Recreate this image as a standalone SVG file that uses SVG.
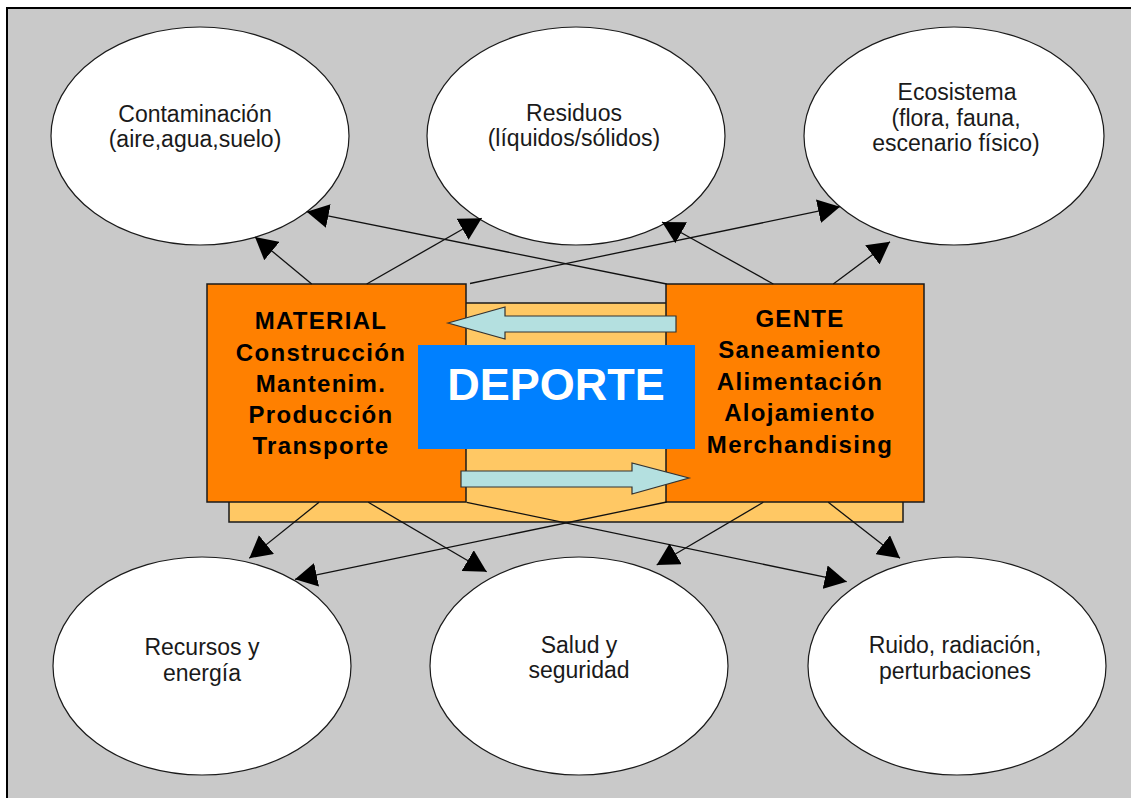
<svg xmlns="http://www.w3.org/2000/svg" width="1131" height="798" viewBox="0 0 1131 798">
<defs>
<style>
.ell{fill:#ffffff;stroke:#1a1a1a;stroke-width:1.2}
.et{font-family:"Liberation Sans",Arial,sans-serif;font-size:23px;fill:#1a1a1a;text-anchor:middle}
.bt{font-family:"Liberation Sans",Arial,sans-serif;font-size:24px;font-weight:bold;fill:#000;text-anchor:middle;letter-spacing:1.3px}
.box{fill:#ff8000;stroke:#1a1a1a;stroke-width:1.5}
.conn{stroke:#111;stroke-width:1.3;fill:none;marker-end:url(#ah)}
.flow{fill:#b4e0e0;stroke:#333;stroke-width:1.2}
</style>
<marker id="ah" viewBox="0 0 22 24" refX="22" refY="12" markerWidth="22" markerHeight="24" markerUnits="userSpaceOnUse" orient="auto">
<path d="M0,0 L22,12 L0,24 z" fill="#000"/>
</marker>
</defs>
<rect x="0" y="0" width="1131" height="798" fill="#ffffff"/>
<rect x="7" y="8" width="1140" height="810" fill="#c9c9c9" stroke="#000" stroke-width="2"/>

<g id="core">
<rect x="229" y="303" width="674" height="219" fill="#ffc864" stroke="#1a1a1a" stroke-width="1.5"/>
</g>
<g id="material">
<rect class="box" x="207" y="284" width="259" height="218"/>
<text class="bt" x="321" y="329">MATERIAL</text>
<text class="bt" x="321" y="361">Construcción</text>
<text class="bt" x="321" y="392">Mantenim.</text>
<text class="bt" x="321" y="423">Producción</text>
<text class="bt" x="321" y="454">Transporte</text>
</g>
<g id="gente">
<rect class="box" x="666" y="284" width="258" height="218"/>
<text class="bt" x="800" y="327">GENTE</text>
<text class="bt" x="800" y="358">Saneamiento</text>
<text class="bt" x="800" y="390">Alimentación</text>
<text class="bt" x="800" y="421">Alojamiento</text>
<text class="bt" x="800" y="453">Merchandising</text>
</g>
<g id="flows">
<polygon class="flow" points="448,323 505,307 505,316 676,316 676,332 505,332 505,339"/>
<polygon class="flow" points="461,471 632,471 632,463 689,478 632,494 632,487 461,487"/>
</g>
<g id="deporte">
<rect x="418" y="345" width="277" height="104" fill="#0080ff"/>
<text x="556" y="400" font-family="Liberation Sans,Arial,sans-serif" font-size="45" font-weight="bold" fill="#ffffff" text-anchor="middle">DEPORTE</text>
</g>

<g id="contaminacion">
<ellipse class="ell" cx="200" cy="136" rx="149" ry="109"/>
<text class="et" x="195" y="122">Contaminación</text>
<text class="et" x="195" y="147">(aire,agua,suelo)</text>
</g>
<g id="residuos">
<ellipse class="ell" cx="576" cy="136" rx="149" ry="109"/>
<text class="et" x="574" y="121">Residuos</text>
<text class="et" x="574" y="146">(líquidos/sólidos)</text>
</g>
<g id="ecosistema">
<ellipse class="ell" cx="954" cy="136" rx="150" ry="109"/>
<text class="et" x="957" y="100">Ecosistema</text>
<text class="et" x="956" y="125.5">(flora, fauna,</text>
<text class="et" x="956" y="151">escenario físico)</text>
</g>
<g id="recursos">
<ellipse class="ell" cx="202" cy="666" rx="149" ry="109"/>
<text class="et" x="202" y="655">Recursos y</text>
<text class="et" x="202" y="681">energía</text>
</g>
<g id="salud">
<ellipse class="ell" cx="579" cy="666" rx="149" ry="109"/>
<text class="et" x="579" y="653">Salud y</text>
<text class="et" x="579" y="678">seguridad</text>
</g>
<g id="ruido">
<ellipse class="ell" cx="957" cy="666" rx="149" ry="109"/>
<text class="et" x="955" y="653">Ruido, radiación,</text>
<text class="et" x="955" y="679">perturbaciones</text>
</g>

<g id="connectors">
<line class="conn" x1="311.7" y1="284" x2="255" y2="237"/>
<line class="conn" x1="366.7" y1="284" x2="481.7" y2="218.3"/>
<line class="conn" x1="666.7" y1="284" x2="306.7" y2="211.7"/>
<line class="conn" x1="470" y1="283.5" x2="840" y2="206.7"/>
<line class="conn" x1="773.3" y1="284" x2="662" y2="222"/>
<line class="conn" x1="833.3" y1="284" x2="890" y2="241.7"/>
<line class="conn" x1="319" y1="502.3" x2="249.3" y2="558.3"/>
<line class="conn" x1="368.3" y1="502.3" x2="486.7" y2="571.7"/>
<line class="conn" x1="666.7" y1="502" x2="295" y2="579.3"/>
<line class="conn" x1="466.7" y1="502.3" x2="846.7" y2="581.7"/>
<line class="conn" x1="763.3" y1="502.3" x2="656.7" y2="565"/>
<line class="conn" x1="828.3" y1="502.3" x2="900" y2="558.3"/>
</g>
</svg>
